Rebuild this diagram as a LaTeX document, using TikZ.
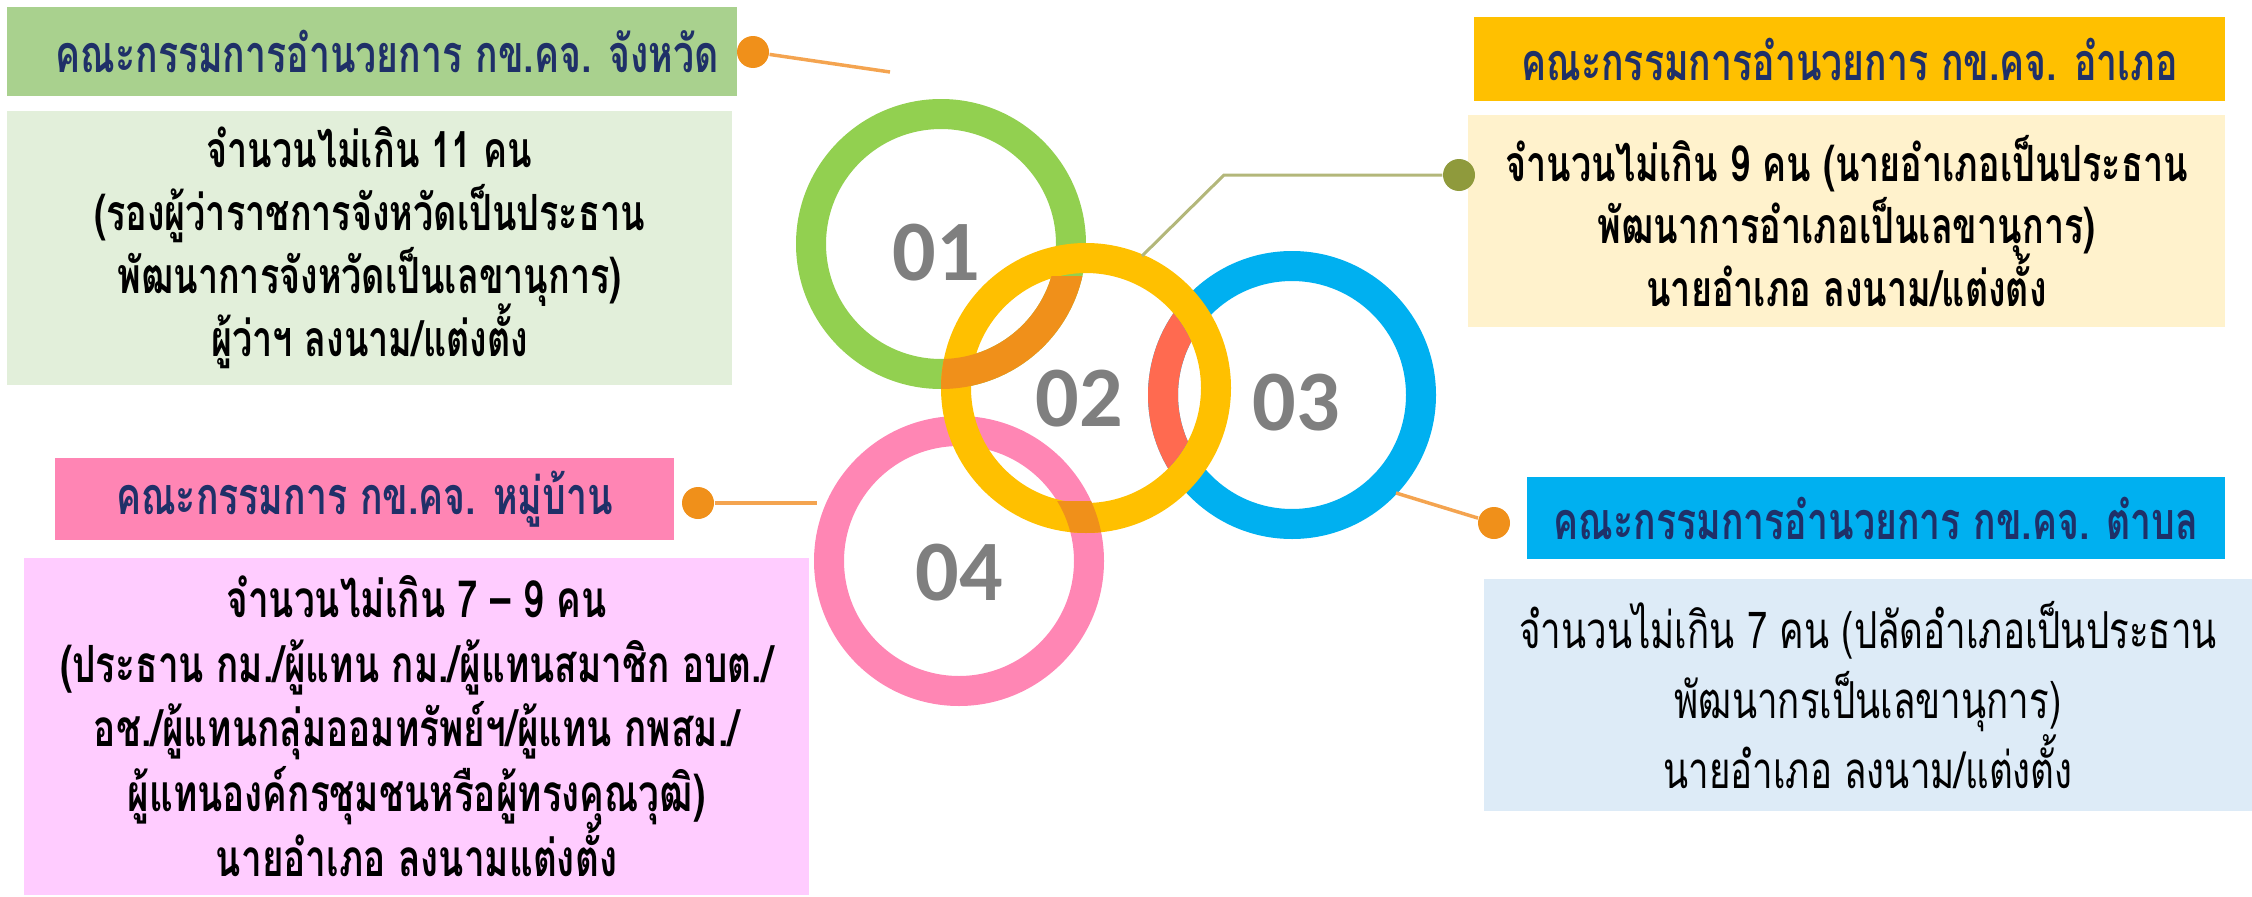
\documentclass[tikz,border=0pt]{standalone}
\usepackage{fontspec}
\newfontfamily\thaifont[Script=Thai,FakeStretch=0.72]{Loma}
\newfontfamily\numfont{Carlito}
\usetikzlibrary{positioning}
\lineskiplimit=-100pt
\definecolor{hdrgreen}{HTML}{A9D18E}
\definecolor{bodygreen}{HTML}{E2EFDA}
\definecolor{hdryellow}{HTML}{FFC000}
\definecolor{bodyyellow}{HTML}{FFF2CC}
\definecolor{hdrblue}{HTML}{00B0F0}
\definecolor{bodyblue}{HTML}{DDEBF7}
\definecolor{hdrpink}{HTML}{FF85B4}
\definecolor{bodypink}{HTML}{FFCCFF}
\definecolor{ringgreen}{HTML}{92D050}
\definecolor{ringyellow}{HTML}{FFC000}
\definecolor{ringblue}{HTML}{00B0F0}
\definecolor{ringpink}{HTML}{FF86B4}
\definecolor{ovorange}{HTML}{F0901A}
\definecolor{ovred}{HTML}{FF6A50}
\definecolor{navy}{HTML}{1F3068}
\definecolor{numgray}{HTML}{7F7F7F}
\definecolor{lineorange}{HTML}{F4A450}
\definecolor{lineolive}{HTML}{B3B77A}
\definecolor{dotolive}{HTML}{8F9A3C}
\tikzset{
  hdr/.style = {inner sep=0pt, text=navy, align=center,
    font=\thaifont\bfseries\fontsize{14.8}{15}\selectfont},% header bar
  txt/.style = {inner sep=0pt, text=black, align=center,
    font=\thaifont\bfseries\fontsize{14.2}{17.9}\selectfont},% body box
  ring/.style = {even odd rule},% ring = outer minus inner disc
  numlbl/.style = {text=numgray, font=\numfont\bfseries\fontsize{24.5}{24.5}\selectfont},
  dot/.style = {circle, inner sep=0pt, minimum size=3.2mm},
  conn/.style = {lineorange, line width=0.35mm}
}

\begin{document}
\begin{tikzpicture}[x=0.1mm,y=-0.1mm]
\useasboundingbox (0,0) rectangle (2252,897);
% rings
\fill[ringgreen,ring] (941,244) circle (145) circle (115);
\fill[ringblue,ring] (1292,395) circle (144) circle (114);
\fill[ringpink,ring] (959,561) circle (145) circle (115);
\fill[ringyellow,ring] (1086,388) circle (145) circle (115);
% overlaps
\begin{scope}
  \clip (1086,388) circle (145);
  \clip (0,276) rectangle (2252,897);
  \fill[ovorange,ring] (941,244) circle (145) circle (115);
\end{scope}
\begin{scope}
  \clip (1086,388) circle (115);
  \fill[ovred,ring] (1292,395) circle (144) circle (114);
\end{scope}
\begin{scope}
  \clip (1086,388) circle (145);
  \clip (0,501) rectangle (2252,897);
  \fill[ovorange,ring] (959,561) circle (145) circle (115);
\end{scope}
\node[numlbl] (n1) at (936,253) {01};
\node[numlbl] (n2) at (1079,399) {02};
\node[numlbl] (n3) at (1296,403) {03};
\node[numlbl] (n4) at (959,573) {04};

% changwat
\node[hdr, fill=hdrgreen, minimum width=73mm, minimum height=8.9mm] (h1) at (372,51.5)
  {\hspace*{3mm}คณะกรรมการอำนวยการ กข.คจ. จังหวัด};
\node[txt, fill=bodygreen, minimum width=72.5mm, minimum height=27.4mm] (b1) at (369.5,248)
  {จำนวนไม่เกิน 11 คน\\(รองผู้ว่าราชการจังหวัดเป็นประธาน\\พัฒนาการจังหวัดเป็นเลขานุการ)\\ผู้ว่าฯ ลงนาม/แต่งตั้ง};
\node[dot, fill=ovorange] (d1) at (753,52) {};
\coordinate (e1) at (890,72);
\draw[conn] (d1) -- (e1);

% amphoe
\node[hdr, fill=hdryellow, minimum width=75.1mm, minimum height=8.4mm] (h2) at (1849.5,59)
  {คณะกรรมการอำนวยการ กข.คจ. อำเภอ};
\node[txt, fill=bodyyellow, minimum width=75.7mm, minimum height=21.2mm] (b2) at (1846.5,221)
  {จำนวนไม่เกิน 9 คน (นายอำเภอเป็นประธาน\\พัฒนาการอำเภอเป็นเลขานุการ)\\นายอำเภอ ลงนาม/แต่งตั้ง};
\node[dot, fill=dotolive] (d2) at (1459,175) {};
\coordinate (k2) at (1224,175);
\coordinate (e2) at (1142,256);
\draw[lineolive, line width=0.3mm] (d2) -- (k2) -- (e2);

% tambon
\node[hdr, fill=hdrblue, minimum width=69.8mm, minimum height=8.2mm] (h3) at (1876,518)
  {คณะกรรมการอำนวยการ กข.คจ. ตำบล};
\node[txt, fill=bodyblue, minimum width=76.8mm, minimum height=23.2mm,
  font=\thaifont\fontsize{14.5}{19.9}\selectfont] (b3) at (1868,695)
  {จำนวนไม่เกิน 7 คน (ปลัดอำเภอเป็นประธาน\\พัฒนากรเป็นเลขานุการ)\\นายอำเภอ ลงนาม/แต่งตั้ง};
\node[dot, fill=ovorange] (d3) at (1494,523) {};
\coordinate (e3) at (1396,493);
\draw[conn] (d3) -- (e3);

% muban
\node[hdr, fill=hdrpink, minimum width=61.9mm, minimum height=8.2mm] (h4) at (364.5,499)
  {คณะกรรมการ กข.คจ. หมู่บ้าน};
\node[txt, fill=bodypink, minimum width=78.5mm, minimum height=33.7mm,
  font=\thaifont\bfseries\fontsize{14.6}{18.4}\selectfont] (b4) at (416.5,726)
  {จำนวนไม่เกิน 7 – 9 คน\\(ประธาน กม./ผู้แทน กม./ผู้แทนสมาชิก อบต./\\อช./ผู้แทนกลุ่มออมทรัพย์ฯ/ผู้แทน กพสม./\\ผู้แทนองค์กรชุมชนหรือผู้ทรงคุณวุฒิ)\\นายอำเภอ ลงนามแต่งตั้ง};
\node[dot, fill=ovorange] (d4) at (698,503) {};
\coordinate (e4) at (817,503);
\draw[conn] (d4) -- (e4);
\end{tikzpicture}
\end{document}
